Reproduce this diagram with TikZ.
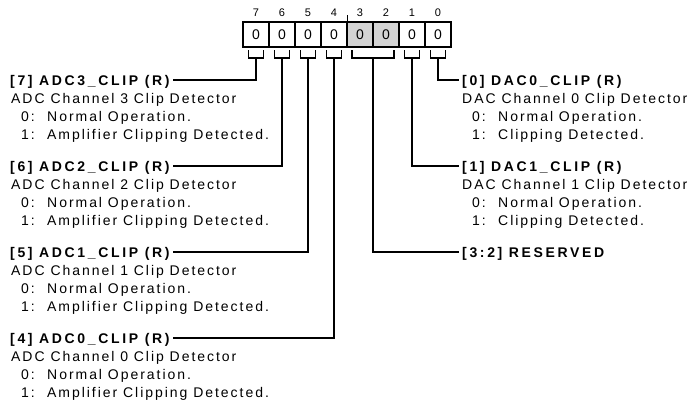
\documentclass[tikz,border=0pt]{standalone}
\usepackage{fontspec}
\setmainfont{Liberation Sans}[LetterSpace=14]
\newfontfamily\titlefont{Liberation Sans}[LetterSpace=19]
\usetikzlibrary{positioning,calc}
\definecolor{resgray}{RGB}{211,211,211}
\tikzset{
  bitbox/.style = {rectangle, draw, line width=1.6pt, minimum width=26pt, minimum height=25pt,
    outer sep=0pt, inner sep=0pt, font=\fontsize{14}{16}\selectfont},
  bitnum/.style = {inner sep=0pt, font=\fontsize{11}{13}\selectfont},
  fieldname/.style = {anchor=base west, inner xsep=3pt, inner ysep=0pt, text height=10pt,
    text depth=0pt, font=\titlefont\fontsize{14}{16}\selectfont\bfseries},
  fielddesc/.style = {anchor=north west, align=left, inner sep=0pt, font=\fontsize{14}{18.3}\selectfont},
  leader/.style = {line width=1.6pt},
  bitbrace/.style = {line width=1.6pt}
}
\newcommand{\codeitem}[2]{\hspace*{#1}\makebox[26pt][l]{#2}}
\newcommand{\firstline}{\rule{0pt}{10pt}}

\begin{document}
\begin{tikzpicture}[x=1pt, y=-1pt]
\useasboundingbox (0,0) rectangle (694,413);

% register bits
\foreach \i/\fillc [count=\k from 0] in {7/white,6/white,5/white,4/white,3/resgray,2/resgray,1/white,0/white} {
  \node[bitbox, fill=\fillc] (b\i) at (256+26*\k, 34.5) {0};
  \node[bitnum] (n\i) at ([yshift=21.5pt]b\i) {\i};
}
\coordinate (tk) at (b4.north east);
\draw[line width=1pt] (tk) -- ++(0,-7);

% brackets under the fields
\foreach \i in {7,6,5,4,1,0} {
  \draw[bitbrace] ([xshift=-7.5pt,yshift=-3pt]b\i.south) -- ++(0,8) -| ([xshift=7.5pt,yshift=-3pt]b\i.south);
  \coordinate (k\i) at ([yshift=-11pt]b\i.south);
}
\coordinate (m32) at ($(b3.south)!0.5!(b2.south)$);
\draw[bitbrace] ([xshift=-21pt,yshift=-3pt]m32) -- ++(0,8) -| ([xshift=21pt,yshift=-3pt]m32);
\coordinate (k32) at ([yshift=-11pt]m32);

% left fields
\node[fieldname] (t7) at (7,85) {[7] ADC3\_CLIP (R)};
\node[fielddesc] (d7) at ([xshift=4pt,yshift=-7.7pt]t7.base west) {\firstline ADC Channel 3 Clip Detector\\
  \codeitem{10pt}{0:}Normal Operation.\\ \codeitem{10pt}{1:}Amplifier Clipping Detected.};
\node[fieldname] (t6) at (7,171) {[6] ADC2\_CLIP (R)};
\node[fielddesc] (d6) at ([xshift=4pt,yshift=-7.7pt]t6.base west) {\firstline ADC Channel 2 Clip Detector\\
  \codeitem{10pt}{0:}Normal Operation.\\ \codeitem{10pt}{1:}Amplifier Clipping Detected.};
\node[fieldname] (t5) at (7,257) {[5] ADC1\_CLIP (R)};
\node[fielddesc] (d5) at ([xshift=4pt,yshift=-7.7pt]t5.base west) {\firstline ADC Channel 1 Clip Detector\\
  \codeitem{10pt}{0:}Normal Operation.\\ \codeitem{10pt}{1:}Amplifier Clipping Detected.};
\node[fieldname] (t4) at (7,343) {[4] ADC0\_CLIP (R)};
\node[fielddesc] (d4) at ([xshift=4pt,yshift=-7.7pt]t4.base west) {\firstline ADC Channel 0 Clip Detector\\
  \codeitem{10pt}{0:}Normal Operation.\\ \codeitem{10pt}{1:}Amplifier Clipping Detected.};

% right fields
\node[fieldname] (t0) at (459,85) {[0] DAC0\_CLIP (R)};
\node[fielddesc] (d0) at ([xshift=3pt,yshift=-7.7pt]t0.base west) {\firstline DAC Channel 0 Clip Detector\\
  \codeitem{10pt}{0:}Normal Operation.\\ \codeitem{10pt}{1:}Clipping Detected.};
\node[fieldname] (t1) at (459,171) {[1] DAC1\_CLIP (R)};
\node[fielddesc] (d1) at ([xshift=3pt,yshift=-7.7pt]t1.base west) {\firstline DAC Channel 1 Clip Detector\\
  \codeitem{10pt}{0:}Normal Operation.\\ \codeitem{10pt}{1:}Clipping Detected.};
\node[fieldname] (t32) at (459,257) {[3:2] RESERVED};

% leaders
\draw[leader] (k7) |- (t7.east);
\draw[leader] (k6) |- (t6.east);
\draw[leader] (k5) |- (t5.east);
\draw[leader] (k4) |- (t4.east);
\draw[leader] (k0) |- (t0.west);
\draw[leader] (k1) |- (t1.west);
\draw[leader] (k32) |- (t32.west);

\end{tikzpicture}
\end{document}
